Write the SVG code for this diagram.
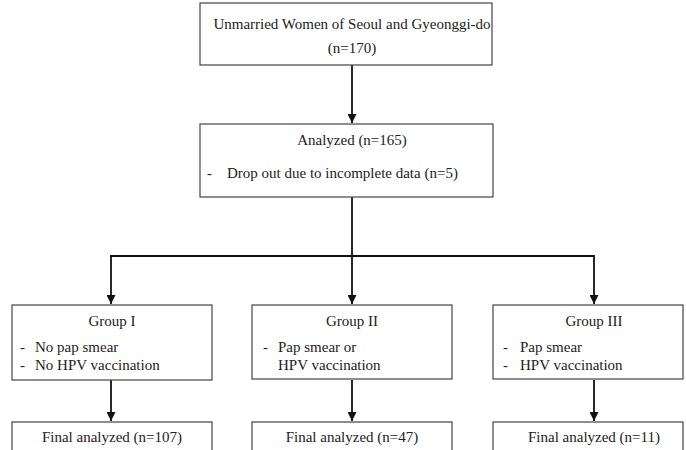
<svg xmlns="http://www.w3.org/2000/svg" width="686" height="450" viewBox="0 0 686 450">
<style>
.box{fill:#fff;stroke:#444;stroke-width:1.2}
.t{font-family:'Liberation Serif','Times New Roman','DejaVu Serif',serif;font-size:15px;fill:#222}
.c{text-anchor:middle}
.ln{fill:none;stroke:#111;stroke-width:1.8}
</style>
<defs>
<marker id="ah" viewBox="0 0 10 10" refX="10" refY="5" markerWidth="5" markerHeight="5" orient="auto" markerUnits="strokeWidth">
<path d="M0,0 L10,5 L0,10 z" fill="#111"/>
</marker>
</defs>
<rect width="686" height="450" fill="#fff"/>
<g id="connectors">
<line class="ln" x1="352" y1="65" x2="352" y2="123" marker-end="url(#ah)"/>
<line class="ln" x1="352" y1="197" x2="352" y2="256"/>
<line class="ln" x1="110" y1="256" x2="594" y2="256"/>
<line class="ln" x1="111" y1="255" x2="111" y2="304" marker-end="url(#ah)"/>
<line class="ln" x1="352" y1="256" x2="352" y2="304" marker-end="url(#ah)"/>
<line class="ln" x1="594" y1="255" x2="594" y2="304" marker-end="url(#ah)"/>
<line class="ln" x1="111" y1="380" x2="111" y2="421" marker-end="url(#ah)"/>
<line class="ln" x1="352" y1="380" x2="352" y2="421" marker-end="url(#ah)"/>
<line class="ln" x1="594" y1="380" x2="594" y2="421" marker-end="url(#ah)"/>
</g>
<g id="n-total">
<rect class="box" x="200" y="3" width="292" height="62"/>
<text class="t c" x="352" y="29">Unmarried Women of Seoul and Gyeonggi-do</text>
<text class="t c" x="352" y="53">(n=170)</text>
</g>
<g id="n-analyzed">
<rect class="box" x="200" y="124" width="293" height="73"/>
<text class="t c" x="352" y="145">Analyzed (n=165)</text>
<text class="t" x="207" y="178">-</text>
<text class="t" x="227" y="178">Drop out due to incomplete data (n=5)</text>
</g>
<g id="n-group1">
<rect class="box" x="12" y="305" width="200" height="75"/>
<text class="t c" x="112" y="326">Group I</text>
<text class="t" x="20" y="352">-</text>
<text class="t" x="35" y="352">No pap smear</text>
<text class="t" x="20" y="370">-</text>
<text class="t" x="35" y="370">No HPV vaccination</text>
</g>
<g id="n-group2">
<rect class="box" x="252" y="305" width="200" height="74"/>
<text class="t c" x="352" y="326">Group II</text>
<text class="t" x="263" y="352">-</text>
<text class="t" x="278" y="352">Pap smear or</text>
<text class="t" x="278" y="370">HPV vaccination</text>
</g>
<g id="n-group3">
<rect class="box" x="493" y="305" width="190" height="74"/>
<text class="t c" x="594" y="326">Group III</text>
<text class="t" x="503" y="352">-</text>
<text class="t" x="520" y="352">Pap smear</text>
<text class="t" x="503" y="370">-</text>
<text class="t" x="520" y="370">HPV vaccination</text>
</g>
<g id="n-final1">
<rect class="box" x="12" y="422" width="200" height="40"/>
<text class="t c" x="112" y="442">Final analyzed (n=107)</text>
</g>
<g id="n-final2">
<rect class="box" x="252" y="422" width="200" height="40"/>
<text class="t c" x="352" y="442">Final analyzed (n=47)</text>
</g>
<g id="n-final3">
<rect class="box" x="493" y="422" width="190" height="40"/>
<text class="t c" x="594" y="442">Final analyzed (n=11)</text>
</g>
</svg>
